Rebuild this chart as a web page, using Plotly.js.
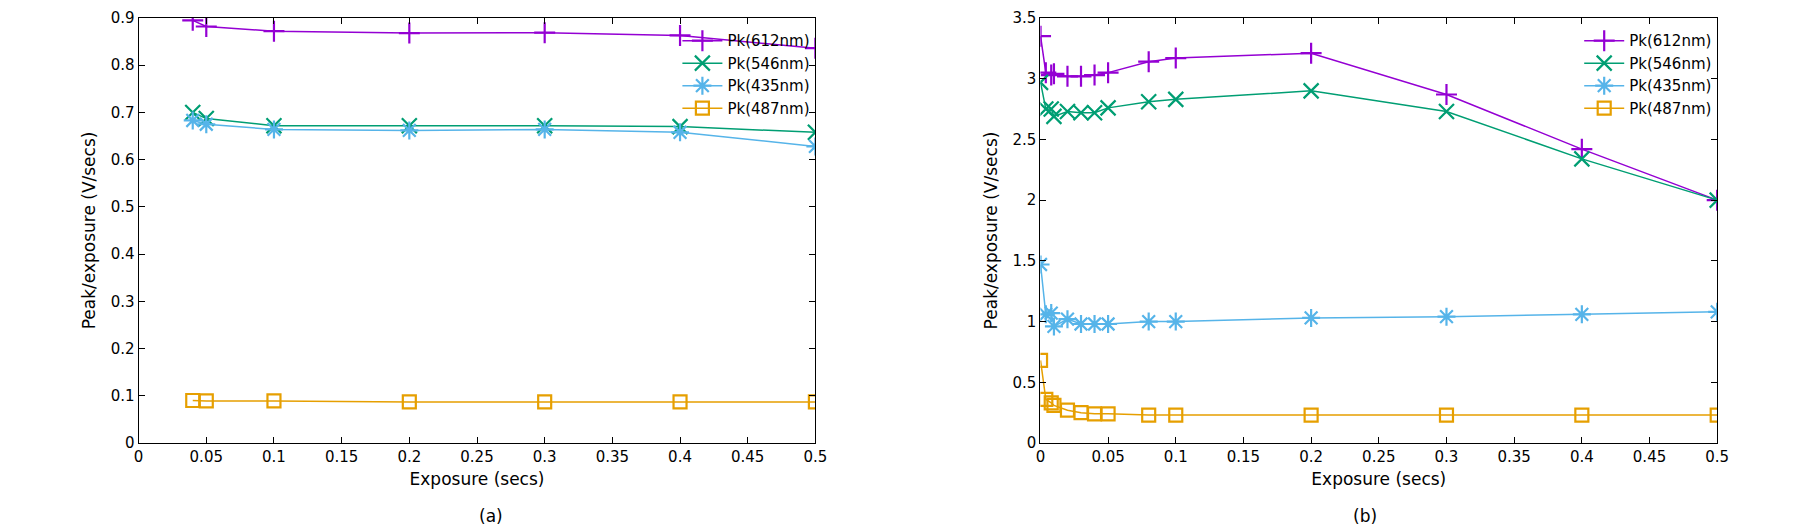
<!DOCTYPE html>
<html>
<head>
<meta charset="utf-8">
<script src="https://cdn.plot.ly/plotly-3.0.1.min.js"></script>
<style>body{margin:0;background:#fff}#plot{width:1800px;height:532px}</style>
</head>
<body>
<div id="plot"></div>
<script>
// panel (a)
var xA = [0.04, 0.05, 0.1, 0.2, 0.3, 0.4, 0.5];
var a612 = [0.895, 0.882, 0.872, 0.868, 0.869, 0.863, 0.836];
var a546 = [0.700, 0.687, 0.672, 0.672, 0.672, 0.670, 0.658];
var a435 = [0.683, 0.675, 0.664, 0.662, 0.664, 0.658, 0.628];
var a487 = [0.090, 0.089, 0.089, 0.087, 0.087, 0.087, 0.087];

// panel (b)
var xB = [0.0001, 0.004, 0.008, 0.01, 0.02, 0.03, 0.04, 0.05, 0.08, 0.1, 0.2, 0.3, 0.4, 0.5];
var b612 = [3.35, 3.05, 3.03, 3.04, 3.02, 3.02, 3.03, 3.05, 3.14, 3.17, 3.21, 2.87, 2.42, 2.00];
var b546 = [2.97, 2.75, 2.75, 2.69, 2.73, 2.72, 2.72, 2.76, 2.81, 2.83, 2.90, 2.73, 2.34, 2.00];
var b435 = [1.47, 1.06, 1.07, 0.96, 1.02, 0.98, 0.98, 0.98, 1.00, 1.00, 1.03, 1.04, 1.06, 1.08];
var b487 = [0.68, 0.36, 0.33, 0.31, 0.27, 0.25, 0.24, 0.24, 0.23, 0.23, 0.23, 0.23, 0.23, 0.23];

var names = ['Pk(612nm)', 'Pk(546nm)', 'Pk(435nm)', 'Pk(487nm)'];
var colors = ['#9400d3', '#009e73', '#56b4e9', '#e69f00'];
var symbols = ['cross-thin', 'x-thin', 'asterisk', 'square-open'];

function mk(x, y, i, ax, leg) {
  return {
    x: x, y: y, type: 'scatter', mode: 'lines+markers', name: names[i],
    xaxis: 'x' + ax, yaxis: 'y' + ax, legend: leg, showlegend: true,
    line: {color: colors[i], width: 1.5},
    marker: {symbol: symbols[i], size: i == 3 ? 13 : 15, color: colors[i], line: {color: colors[i], width: 2.2}}
  };
}

var data = [
  mk(xA, a612, 0, '', 'legend'), mk(xA, a546, 1, '', 'legend'),
  mk(xA, a435, 2, '', 'legend'), mk(xA, a487, 3, '', 'legend'),
  mk(xB, b612, 0, '2', 'legend2'), mk(xB, b546, 1, '2', 'legend2'),
  mk(xB, b435, 2, '2', 'legend2'), mk(xB, b487, 3, '2', 'legend2')
];

function axis(extra) {
  var base = {
    showgrid: false, zeroline: false, showline: true, mirror: 'ticks',
    linecolor: '#000', linewidth: 1, ticks: 'inside', ticklen: 6, tickcolor: '#000',
    tickfont: {size: 15, color: '#000'}
  };
  for (var k in extra) base[k] = extra[k];
  return base;
}

var legStyle = {
  xanchor: 'right', yanchor: 'top', bgcolor: 'rgba(0,0,0,0)',
  font: {size: 15, color: '#000'}, tracegroupgap: 0, itemwidth: 40
};

var layout = {
  width: 1800, height: 532,
  paper_bgcolor: '#fff', plot_bgcolor: '#fff',
  font: {family: 'DejaVu Sans, sans-serif', color: '#000'},
  margin: {l: 0, r: 0, t: 18, b: 89},
  xaxis: axis({domain: [0.077, 0.453], range: [0, 0.5], dtick: 0.05, anchor: 'y',
    title: {text: 'Exposure (secs)', font: {size: 17}, standoff: 8}}),
  yaxis: axis({range: [0, 0.9], dtick: 0.1, anchor: 'x',
    title: {text: 'Peak/exposure (V/secs)', font: {size: 17}, standoff: 10}}),
  xaxis2: axis({domain: [0.578, 0.954], range: [0, 0.5], dtick: 0.05, anchor: 'y2',
    title: {text: 'Exposure (secs)', font: {size: 17}, standoff: 8}}),
  yaxis2: axis({range: [0, 3.5], dtick: 0.5, anchor: 'x2',
    title: {text: 'Peak/exposure (V/secs)', font: {size: 17}, standoff: 10}}),
  legend: Object.assign({x: 0.453, y: 0.985}, legStyle),
  legend2: Object.assign({x: 0.954, y: 0.985}, legStyle),
  annotations: [
    {text: '(a)', xref: 'paper', yref: 'paper', x: 0.265, y: -0.2, showarrow: false, font: {size: 17}},
    {text: '(b)', xref: 'paper', yref: 'paper', x: 0.766, y: -0.2, showarrow: false, font: {size: 17}}
  ]
};

Plotly.newPlot('plot', data, layout, {staticPlot: true});
</script>
</body>
</html>
